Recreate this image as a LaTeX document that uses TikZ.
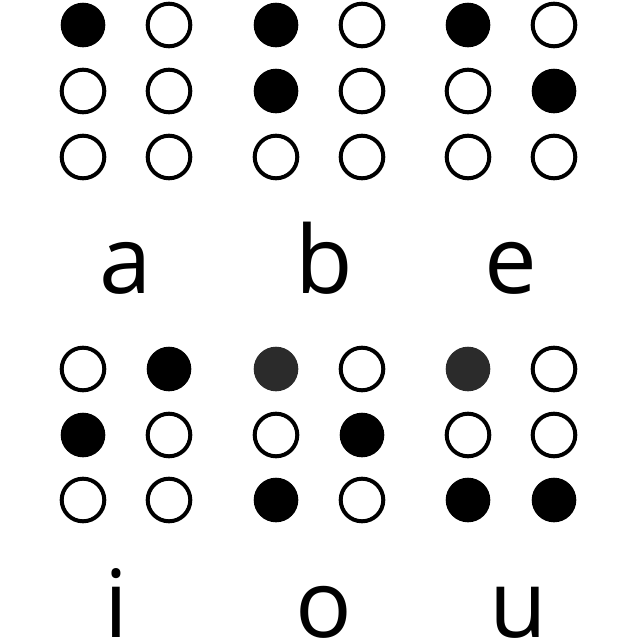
\documentclass[tikz,border=0pt]{standalone}
\usepackage{fontspec}
\setmainfont{Open Sans}
\begin{document}
\begin{tikzpicture}[x=1pt,y=-1pt,
  fulldot/.style={circle,fill=black,draw=none,minimum size=44.6pt,inner sep=0pt},
  greydot/.style={circle,fill=black!83,draw=none,minimum size=44.6pt,inner sep=0pt},
  emptydot/.style={circle,draw=black,line width=4pt,fill=white,minimum size=42.6pt,inner sep=0pt},
  letter/.style={anchor=base,inner sep=0pt,font=\fontsize{94}{94}\selectfont}]
\useasboundingbox (0,0) rectangle (640,640);
\clip (0,0) rectangle (640,640);
% rows
\def\ra{25}\def\rb{91}\def\rc{157}
\def\rd{369}\def\re{435}\def\rf{500}
% cell a
\node[fulldot]  (a1) at (83,\ra) {};
\node[emptydot] (a4) at (169,\ra) {};
\node[emptydot] (a2) at (83,\rb) {};
\node[emptydot] (a5) at (169,\rb) {};
\node[emptydot] (a3) at (83,\rc) {};
\node[emptydot] (a6) at (169,\rc) {};
% cell b
\node[fulldot]  (b1) at (276,\ra) {};
\node[emptydot] (b4) at (362,\ra) {};
\node[fulldot]  (b2) at (276,\rb) {};
\node[emptydot] (b5) at (362,\rb) {};
\node[emptydot] (b3) at (276,\rc) {};
\node[emptydot] (b6) at (362,\rc) {};
% cell e
\node[fulldot]  (e1) at (468,\ra) {};
\node[emptydot] (e4) at (554,\ra) {};
\node[emptydot] (e2) at (468,\rb) {};
\node[fulldot]  (e5) at (554,\rb) {};
\node[emptydot] (e3) at (468,\rc) {};
\node[emptydot] (e6) at (554,\rc) {};
% cell i
\node[emptydot] (i1) at (83,\rd) {};
\node[fulldot]  (i4) at (169,\rd) {};
\node[fulldot]  (i2) at (83,\re) {};
\node[emptydot] (i5) at (169,\re) {};
\node[emptydot] (i3) at (83,\rf) {};
\node[emptydot] (i6) at (169,\rf) {};
% cell o
\node[greydot]  (o1) at (276,\rd) {};
\node[emptydot] (o4) at (362,\rd) {};
\node[emptydot] (o2) at (276,\re) {};
\node[fulldot]  (o5) at (362,\re) {};
\node[fulldot]  (o3) at (276,\rf) {};
\node[emptydot] (o6) at (362,\rf) {};
% cell u
\node[greydot]  (u1) at (468,\rd) {};
\node[emptydot] (u4) at (554,\rd) {};
\node[emptydot] (u2) at (468,\re) {};
\node[emptydot] (u5) at (554,\re) {};
\node[fulldot]  (u3) at (468,\rf) {};
\node[fulldot]  (u6) at (554,\rf) {};
% letters
\node[letter] (la) at (126,293) {a};
\node[letter] (lb) at (324,293) {b};
\node[letter] (le) at (511,293) {e};
\node[letter] (li) at (116,637) {i};
\node[letter] (lo) at (324,637) {o};
\node[letter] (lu) at (518,637) {u};
\end{tikzpicture}
\end{document}
